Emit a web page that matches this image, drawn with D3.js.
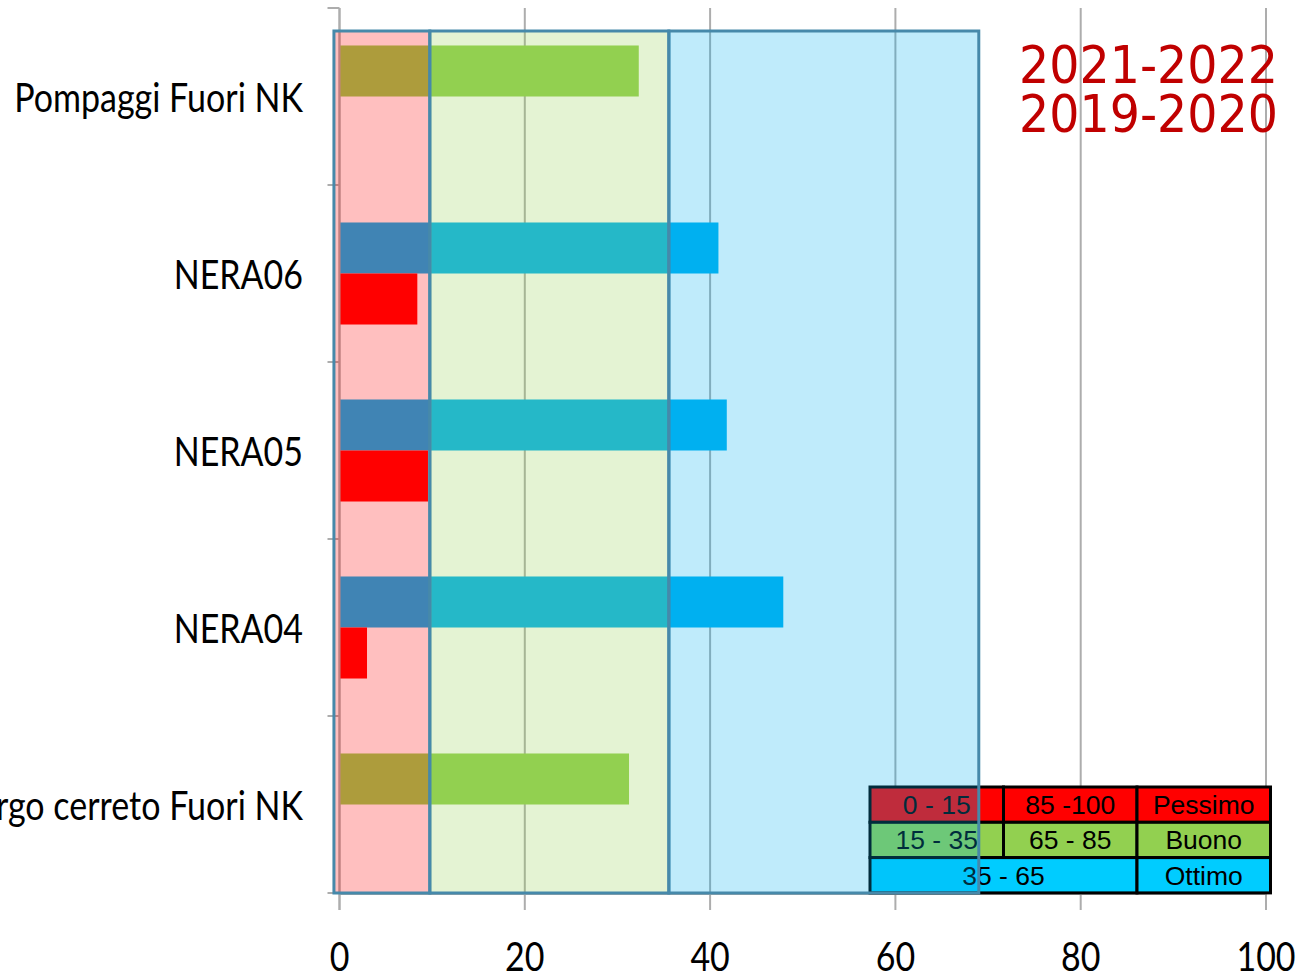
<!DOCTYPE html>
<html>
<head>
<meta charset="utf-8">
<script src="https://cdn.jsdelivr.net/npm/d3@7/dist/d3.min.js"></script>
<style>
  html, body { margin: 0; padding: 0; background: #fff; overflow: hidden; }
  svg { display: block; }
</style>
</head>
<body>
<svg id="chart" width="1301" height="977"></svg>
<script>
// ---------- data ----------
const categories = ["Pompaggi Fuori NK", "NERA06", "NERA05", "NERA04", "Borgo cerreto Fuori NK"];
const seriesNames = ["2021-2022", "2019-2020"];
const values2021 = [32.3, 40.9, 41.8, 47.9, 31.25];
const values2019 = [0, 8.4, 9.55, 2.97, 0];
const xTicks = [0, 20, 40, 60, 80, 100];

// quality classes (legend)
const classBreaks = [15, 35, 65];
const classColors = ["#FF0000", "#92D050", "#00B0F0"];

// overlay zones (in axis units)
const zoneBounds = [-0.6, 9.75, 35.55, 69.0];
const zoneColors = ["#FF0000", "#92D050", "#00B0F0"];

// legend table
const legendRows = [
  [{text: "0 - 15", span: 1, color: "#FF0000"}, {text: "85 -100", span: 1, color: "#FF0000"}, {text: "Pessimo", span: 1, color: "#FF0000"}],
  [{text: "15 - 35", span: 1, color: "#92D050"}, {text: "65 - 85", span: 1, color: "#92D050"}, {text: "Buono", span: 1, color: "#92D050"}],
  [{text: "35 - 65", span: 2, color: "#00CCFF"}, {text: "Ottimo", span: 1, color: "#00CCFF"}]
];

// ---------- layout ----------
const svg = d3.select("#chart");
const x = d3.scaleLinear().domain([0, 100]).range([339.5, 1266]);
const y = d3.scaleBand().domain(categories).range([8, 893]).paddingInner(0).paddingOuter(0);
const ySub = d3.scaleBand().domain(seriesNames).range([0, y.bandwidth()]).paddingInner(0).paddingOuter(0.735);
const plotBottom = 893;
const overlayTop = 31;
const labelFont = "Lato, 'Open Sans', sans-serif";
const squeeze = 0.85;

function classColor(v) {
  const i = d3.bisectRight(classBreaks, v);
  return classColors[Math.min(i, classColors.length - 1)];
}

// gridlines (vertical) + tick marks below
const grid = svg.append("g");
grid.selectAll("line.grid").data(xTicks).join("line")
  .attr("x1", d => x(d)).attr("x2", d => x(d))
  .attr("y1", 8).attr("y2", plotBottom + 17)
  .attr("stroke", "#ADADAD").attr("stroke-width", 2);

// x axis baseline
svg.append("line")
  .attr("x1", x(0)).attr("x2", x(100))
  .attr("y1", plotBottom + 1).attr("y2", plotBottom + 1)
  .attr("stroke", "#ADADAD").attr("stroke-width", 2);

// y axis category-boundary ticks
const bounds = categories.map(c => y(c)).concat([plotBottom]);
svg.append("g").selectAll("line").data(bounds).join("line")
  .attr("x1", x(0) - 12).attr("x2", x(0))
  .attr("y1", d => d).attr("y2", d => d)
  .attr("stroke", "#ADADAD").attr("stroke-width", 2);

// bars
const rows = categories.map((c, i) => ({cat: c, vals: [values2021[i], values2019[i]]}));
const barG = svg.append("g");
rows.forEach(r => {
  seriesNames.forEach((s, j) => {
    const v = r.vals[j];
    if (v <= 0) return;
    barG.append("rect")
      .attr("x", x(0))
      .attr("y", y(r.cat) + ySub(s))
      .attr("width", x(v) - x(0))
      .attr("height", ySub.bandwidth())
      .attr("fill", classColor(v));
  });
});

// legend table (drawn under overlays)
const legX = 870, legY = 787, colW = 133.5, rowH = 35.3;
const legG = svg.append("g");
legendRows.forEach((row, ri) => {
  let col = 0;
  row.forEach(cell => {
    const cx = legX + col * colW, w = cell.span * colW, cy = legY + ri * rowH;
    legG.append("rect").attr("x", cx).attr("y", cy).attr("width", w).attr("height", rowH)
      .attr("fill", cell.color).attr("stroke", "#000").attr("stroke-width", 3);
    legG.append("text").attr("x", cx + w / 2).attr("y", cy + rowH / 2 + 9.5)
      .attr("text-anchor", "middle")
      .attr("font-family", "'Liberation Sans', Arial, sans-serif")
      .attr("font-size", 26.5).attr("fill", "#000")
      .text(cell.text);
    col += cell.span;
  });
});

// y axis line
svg.append("line")
  .attr("x1", x(0)).attr("x2", x(0))
  .attr("y1", 8).attr("y2", plotBottom + 17)
  .attr("stroke", "#ADADAD").attr("stroke-width", 2);

// overlay zones
const zones = zoneColors.map((c, i) => ({c, a: zoneBounds[i], b: zoneBounds[i + 1]}));
svg.append("g").selectAll("rect").data(zones).join("rect")
  .attr("x", d => x(d.a)).attr("y", overlayTop)
  .attr("width", d => x(d.b) - x(d.a)).attr("height", plotBottom - overlayTop)
  .attr("fill", d => d.c).attr("fill-opacity", 0.25)
  .attr("stroke", "#4689AA").attr("stroke-width", 3);

// category labels
svg.append("g").selectAll("text").data(categories).join("text")
  .attr("transform", d => `translate(303,${y(d) + y.bandwidth() / 2 + 15.5}) scale(${squeeze},1)`)
  .attr("text-anchor", "end")
  .attr("font-family", labelFont).attr("font-size", 40).attr("fill", "#000")
  .text(d => d);

// x tick labels
svg.append("g").selectAll("text").data(xTicks).join("text")
  .attr("transform", d => `translate(${x(d)},971) scale(${squeeze},1)`)
  .attr("text-anchor", "middle")
  .attr("font-family", labelFont).attr("font-size", 40).attr("fill", "#000")
  .text(d => d);

// series titles
svg.append("g").selectAll("text").data(seriesNames).join("text")
  .attr("transform", (d, i) => `translate(1019,${83 + i * 49}) scale(1,1.07)`)
  .attr("font-family", "'DejaVu Sans', sans-serif").attr("font-size", 47.5).attr("fill", "#C00000")
  .text(d => d);
</script>
</body>
</html>
